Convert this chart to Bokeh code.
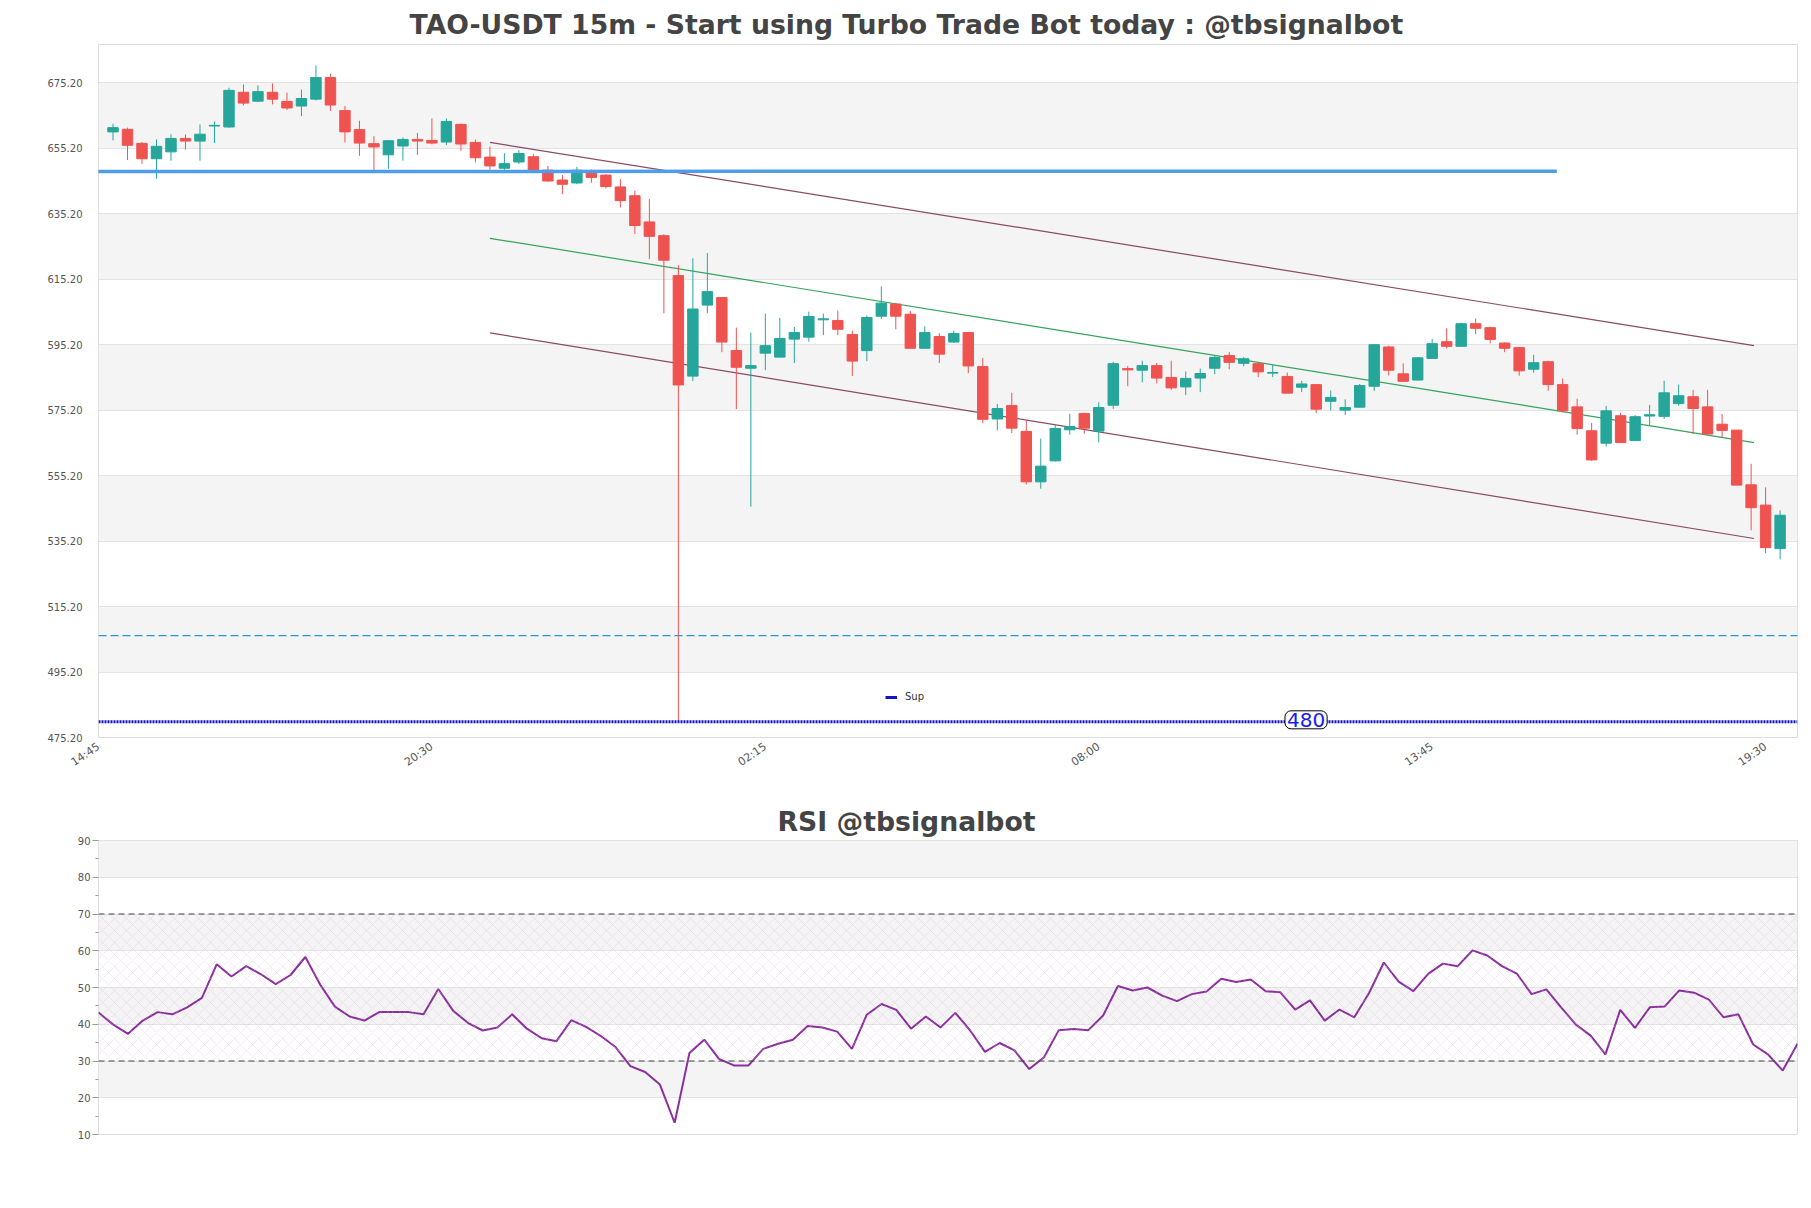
import math
from bokeh.plotting import figure
from bokeh.models import (Range1d, FixedTicker, PrintfTickFormatter, Span, BoxAnnotation,
                          Label, Legend, LegendItem, ColumnDataSource, Title, Arrow)
from bokeh.layouts import column
from bokeh.embed import file_html
from bokeh.resources import INLINE

# ---------------- data ----------------
TITLE = "TAO-USDT 15m - Start using Turbo Trade Bot today : @tbsignalbot"
RSI_TITLE = "RSI @tbsignalbot"

x_tick_pos = [0, 23, 46, 69, 92, 115]
x_tick_labels = ["14:45", "20:30", "02:15", "08:00", "13:45", "19:30"]
y_ticks = [475.2, 495.2, 515.2, 535.2, 555.2, 575.2, 595.2, 615.2, 635.2, 655.2, 675.2]

opens = [660.2, 661.0, 656.7, 652.0, 654.1, 658.2, 657.4, 662.0, 661.7, 672.3,
         669.6, 672.3, 669.5, 668.1, 670.2, 676.8, 666.7, 660.9, 656.6, 653.2,
         655.9, 657.9, 657.6, 657.1, 662.5, 657.0, 652.5, 649.1, 651.0, 652.6,
         648.5, 645.5, 644.6, 648.2, 647.0, 643.4, 640.7, 632.7, 628.5, 616.3,
         585.6, 607.3, 609.6, 593.4, 588.0, 592.6, 591.4, 596.9, 597.5, 602.8,
         602.6, 598.3, 593.4, 603.9, 607.6, 604.5, 594.1, 597.7, 596.0, 598.9,
         588.5, 572.5, 576.6, 568.7, 553.3, 559.7, 569.2, 574.2, 568.8, 576.7,
         587.9, 587.4, 588.8, 585.2, 582.3, 585.0, 588.0, 591.9, 589.5, 589.4,
         586.5, 585.5, 582.2, 583.0, 577.9, 575.2, 576.1, 582.5, 594.5, 586.3,
         584.4, 591.0, 596.1, 594.7, 601.6, 600.4, 595.7, 594.3, 587.7, 590.0,
         583.0, 576.2, 568.9, 565.1, 573.5, 565.9, 573.4, 573.3, 577.2, 579.3,
         576.2, 570.9, 569.1, 552.4, 546.2, 532.9]
highs = [662.7, 661.5, 657.1, 657.9, 659.5, 659.4, 662.5, 663.4, 673.7, 674.7,
         674.4, 675.0, 672.2, 673.1, 680.5, 678.0, 668.1, 663.6, 658.9, 657.7,
         658.5, 659.9, 664.3, 664.3, 662.7, 657.9, 655.7, 653.7, 654.6, 653.4,
         649.8, 647.0, 649.5, 648.7, 647.3, 645.8, 642.2, 639.7, 629.0, 619.5,
         621.6, 623.2, 609.6, 600.4, 598.9, 604.7, 603.4, 600.6, 605.3, 604.7,
         605.6, 599.5, 604.1, 613.0, 608.0, 605.5, 600.8, 598.7, 599.5, 598.9,
         591.1, 577.1, 580.5, 571.9, 566.5, 570.6, 574.1, 574.4, 577.6, 590.0,
         588.7, 590.3, 589.6, 590.3, 587.0, 587.9, 591.9, 593.0, 591.4, 589.6,
         589.1, 586.7, 584.2, 583.0, 581.2, 578.5, 583.2, 595.4, 594.9, 589.5,
         591.4, 597.0, 600.2, 601.9, 603.2, 600.7, 595.9, 594.5, 592.1, 590.3,
         584.9, 578.7, 571.3, 576.5, 574.4, 573.7, 576.8, 584.2, 583.0, 581.4,
         581.4, 574.0, 569.1, 558.8, 551.6, 544.6]
lows = [657.6, 651.6, 650.4, 645.9, 651.4, 654.8, 651.4, 656.8, 661.5, 668.3,
        669.3, 668.6, 666.9, 665.0, 669.8, 666.6, 657.0, 652.9, 648.0, 648.9,
        651.4, 653.2, 656.4, 656.2, 654.4, 650.9, 648.7, 648.5, 650.4, 647.6,
        645.0, 641.2, 644.2, 644.7, 642.9, 637.1, 629.0, 621.3, 604.8, 480.0,
        584.1, 604.8, 592.9, 575.5, 545.7, 587.4, 591.4, 589.6, 596.1, 598.1,
        598.1, 585.6, 590.2, 603.0, 599.9, 594.1, 594.1, 589.6, 595.7, 586.5,
        571.2, 569.0, 568.2, 552.5, 551.2, 559.5, 567.7, 568.0, 565.3, 575.6,
        582.5, 583.7, 583.4, 581.4, 579.8, 580.7, 586.2, 587.7, 588.6, 585.3,
        585.3, 580.4, 580.7, 574.3, 575.1, 573.7, 576.1, 581.0, 585.8, 584.0,
        584.2, 591.0, 594.1, 594.7, 598.4, 595.6, 592.9, 585.7, 586.6, 581.1,
        574.5, 567.7, 559.7, 564.1, 565.3, 565.9, 570.4, 572.5, 576.5, 567.9,
        567.7, 566.8, 552.3, 538.5, 531.5, 529.6]
closes = [661.5, 656.1, 652.0, 655.8, 658.2, 657.4, 659.5, 662.2, 672.9, 669.0,
          672.5, 670.2, 667.5, 670.4, 676.8, 668.4, 660.2, 656.8, 655.6, 657.5,
          657.9, 657.4, 656.8, 663.4, 656.5, 652.3, 649.8, 650.5, 653.6, 648.6,
          645.2, 644.2, 648.5, 646.3, 643.5, 639.2, 631.6, 628.3, 621.0, 582.9,
          606.1, 611.4, 596.0, 588.3, 588.8, 594.9, 597.1, 598.9, 603.8, 603.1,
          599.9, 590.2, 603.5, 607.9, 603.9, 594.1, 598.9, 592.3, 598.6, 588.7,
          572.4, 575.7, 569.7, 553.3, 558.1, 569.6, 570.2, 569.7, 576.0, 589.4,
          587.5, 588.8, 585.0, 582.0, 584.9, 586.4, 591.3, 589.8, 590.9, 586.9,
          586.7, 580.4, 583.2, 575.5, 579.1, 576.0, 582.7, 595.2, 587.4, 584.0,
          591.2, 595.5, 594.7, 601.6, 600.2, 596.8, 594.1, 587.2, 589.7, 583.0,
          575.0, 569.6, 560.0, 575.0, 565.3, 573.2, 573.8, 580.5, 579.6, 575.7,
          567.9, 569.0, 552.3, 545.4, 533.2, 543.1]

rsi = [43.2, 39.9, 37.4, 41.0, 43.3, 42.7, 44.6, 47.2, 56.3, 53.0,
       55.8, 53.6, 50.9, 53.4, 58.3, 50.8, 44.8, 42.1, 41.0, 43.3,
       43.3, 43.3, 42.7, 49.6, 43.7, 40.4, 38.3, 39.1, 42.7, 38.8,
       36.2, 35.4, 41.1, 39.3, 36.8, 33.8, 28.6, 27.0, 23.6, 13.2,
       32.2, 35.8, 30.6, 28.8, 28.8, 33.3, 34.7, 35.8, 39.5, 39.1,
       38.0, 33.3, 42.6, 45.5, 43.9, 38.8, 42.1, 39.1, 43.1, 38.3,
       32.5, 34.9, 32.9, 27.8, 31.0, 38.4, 38.7, 38.4, 42.4, 50.4,
       49.2, 50.0, 47.8, 46.3, 48.2, 48.9, 52.4, 51.5, 52.2, 49.0,
       48.7, 44.0, 46.5, 41.0, 44.0, 41.9, 48.5, 56.8, 51.6, 49.0,
       53.7, 56.5, 55.8, 60.1, 58.7, 55.8, 53.8, 48.2, 49.5, 44.6,
       39.9, 36.9, 31.8, 43.9, 39.0, 44.6, 44.8, 49.2, 48.6, 46.7,
       41.9, 42.7, 34.5, 31.8, 27.4, 34.7]

# channel lines (start index, end index, start price, end price)
channel_x = [27, 114.2]
upper_y = [657.0, 594.9]
middle_y = [627.7, 565.3]
lower_y = [598.8, 536.0]

blue_level_x = [-6.3, 100.6]
blue_level_y = [648.1, 648.2]
dashed_level = 506.3
support_level = 480
support_label_x = 83.3

rsi_upper = 70
rsi_lower = 30
rsi_ticks = [10, 20, 30, 40, 50, 60, 70, 80, 90]
rsi_minor = [15, 25, 35, 45, 55, 65, 75, 85]

# ---------------- main chart ----------------
GREEN = "#26a69a"
RED = "#ef5350"
FONT = "DejaVu Sans"

n = len(opens)
idx = list(range(1, n + 1))
colors = [GREEN if c >= o else RED for o, c in zip(opens, closes)]
src = ColumnDataSource(dict(
    x=idx, o=opens, h=highs, l=lows, c=closes,
    top=[max(o, c) for o, c in zip(opens, closes)],
    bot=[min(o, c) for o, c in zip(opens, closes)],
    color=colors))

p = figure(width=1811, height=780, x_range=Range1d(0, 117.2), y_range=Range1d(475.2, 686.9),
           output_backend="svg", toolbar_location=None,
           min_border_left=98, min_border_right=14, min_border_top=44, min_border_bottom=43)
p.title = Title(text=TITLE, align="left", offset=311, standoff=9,
                text_font=FONT, text_font_size="26.7px", text_font_style="bold", text_color="#444444")
p.background_fill_color = "white"
p.border_fill_color = "white"
p.outline_line_color = "#dcdcdc"

p.xgrid.visible = False
p.ygrid.grid_line_color = "#e3e3e3"
p.ygrid.band_fill_color = "#f4f4f4"
p.ygrid.band_fill_alpha = 1.0

p.yaxis.ticker = FixedTicker(ticks=y_ticks)
p.yaxis.formatter = PrintfTickFormatter(format="%.2f")
p.yaxis.axis_line_color = None
p.yaxis.major_tick_line_color = None
p.yaxis.minor_tick_line_color = None
p.yaxis.major_label_standoff = 10
p.yaxis.major_label_text_font = FONT
p.yaxis.major_label_text_font_size = "10px"
p.yaxis.major_label_text_color = "#555555"

p.xaxis.ticker = FixedTicker(ticks=x_tick_pos)
p.xaxis.major_label_overrides = {t: lab for t, lab in zip(x_tick_pos, x_tick_labels)}
p.xaxis.axis_line_color = None
p.xaxis.major_tick_line_color = None
p.xaxis.minor_tick_line_color = None
p.xaxis.major_label_orientation = 0.6
p.xaxis.major_label_standoff = 2
p.xaxis.major_label_text_font = FONT
p.xaxis.major_label_text_font_size = "11px"
p.xaxis.major_label_text_color = "#555555"

p.add_layout(Span(location=dashed_level, dimension="width", line_color="#1f9ad2",
                  line_width=1.3, line_dash="8 4"))
p.add_layout(Span(location=support_level, dimension="width", line_color="#1414c4",
                  line_width=3, line_dash="2 1"))

p.line(channel_x, upper_y, line_color="#8a4a63", line_width=1.2)
p.line(channel_x, middle_y, line_color="#36a35a", line_width=1.2)
p.line(channel_x, lower_y, line_color="#8a4a63", line_width=1.2)

p.segment(x0="x", y0="l", x1="x", y1="h", line_color="color", line_width=1, source=src)
p.vbar(x="x", width=0.72, top="top", bottom="bot", fill_color="color", line_color="color",
       line_width=1, source=src)

p.add_layout(Arrow(end=None, x_start=blue_level_x[0], y_start=blue_level_y[0],
                   x_end=blue_level_x[1], y_end=blue_level_y[1],
                   line_color="#4f9de9", line_width=3.5))
# part of the level line that runs out into the axis area
p.add_layout(BoxAnnotation(left=blue_level_x[0], right=0,
                           bottom=blue_level_y[0] - 0.53, top=blue_level_y[0] + 0.53,
                           fill_color="#4f9de9", fill_alpha=1.0, line_color=None))

p.add_layout(Label(x=support_label_x, y=support_level + 0.6, text=str(support_level),
                   text_align="center", text_baseline="middle", text_font=FONT,
                   text_font_size="20px", text_color="#1a1aee",
                   background_fill_color="white", border_line_color="black",
                   border_line_width=1, border_radius=6, padding=2))

dummy = p.line(x=[-20, -19], y=[400, 400], line_color="#1414c4", line_width=3)
legend = Legend(items=[LegendItem(label="Sup", renderers=[dummy])], location=(787, 35),
                orientation="horizontal", background_fill_alpha=0, border_line_color=None,
                label_text_font=FONT, label_text_font_size="10px", label_text_color="#333333",
                glyph_width=12, glyph_height=10, padding=0, margin=0, spacing=0,
                label_standoff=8)
p.add_layout(legend)

# ---------------- RSI chart ----------------
k = list(range(len(rsi)))
p2 = figure(width=1811, height=428, x_range=Range1d(0, len(rsi) - 1), y_range=Range1d(10, 90),
            output_backend="svg", toolbar_location=None,
            min_border_left=98, min_border_right=14, min_border_top=60, min_border_bottom=74)
p2.title = Title(text=RSI_TITLE, align="left", offset=679, standoff=7,
                 text_font=FONT, text_font_size="26.7px", text_font_style="bold", text_color="#444444")
p2.outline_line_color = "#dcdcdc"
p2.xaxis.visible = False
p2.xgrid.visible = False
p2.ygrid.grid_line_color = "#e3e3e3"
p2.ygrid.band_fill_color = "#f4f4f4"
p2.ygrid.band_fill_alpha = 1.0
p2.yaxis.ticker = FixedTicker(ticks=rsi_ticks, minor_ticks=rsi_minor)
p2.yaxis.axis_line_color = None
p2.yaxis.major_tick_line_color = "#999999"
p2.yaxis.minor_tick_line_color = "#999999"
p2.yaxis.major_tick_in = 0
p2.yaxis.major_tick_out = 6
p2.yaxis.minor_tick_in = 0
p2.yaxis.minor_tick_out = 3
p2.yaxis.major_label_standoff = 2
p2.yaxis.major_label_text_font = FONT
p2.yaxis.major_label_text_font_size = "10px"
p2.yaxis.major_label_text_color = "#555555"

p2.add_layout(BoxAnnotation(bottom=rsi_lower, top=rsi_upper, fill_alpha=0,
                            line_color=None, hatch_pattern="diagonal_cross", hatch_color="#d2b2dc",
                            hatch_alpha=0.45, hatch_scale=12, hatch_weight=0.6))
p2.add_layout(Span(location=rsi_upper, dimension="width", line_color="#444444",
                   line_width=1.2, line_dash="6 4"))
p2.add_layout(Span(location=rsi_lower, dimension="width", line_color="#444444",
                   line_width=1.2, line_dash="6 4"))
p2.line(k, rsi, line_color="#8a2f9c", line_width=2)

layout = column(p, p2, spacing=0)
open("out.html", "w").write(file_html(layout, INLINE))
